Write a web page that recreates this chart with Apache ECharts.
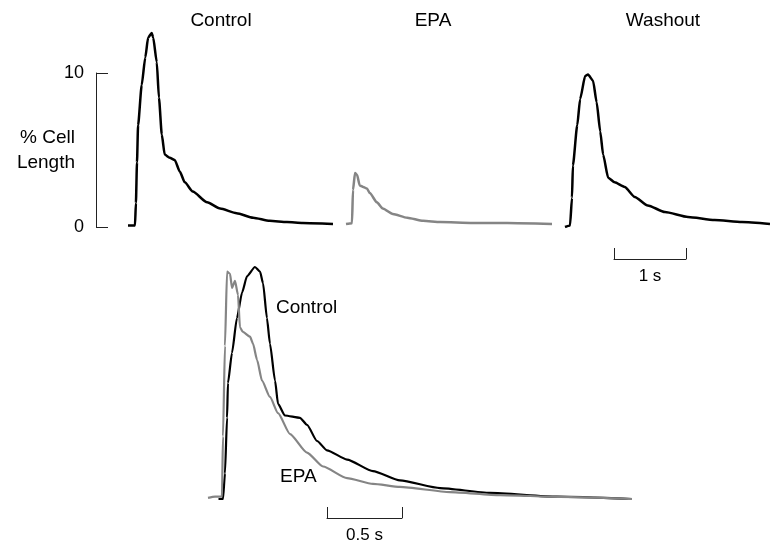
<!DOCTYPE html>
<html>

<head>
    <meta charset="UTF-8">
    <title>Cell shortening traces</title>
    <script src="https://cdn.jsdelivr.net/npm/echarts@6.0.0/dist/echarts.min.js"></script>
    <style>
        body { margin: 0; background: #fff; }
        #chart { width: 776px; height: 547px; }
    </style>
</head>

<body>
    <div id="chart"></div>
    <script>
        // top row: time (s) and % cell length
        const ctrlTopT = [0, 0.097, 0.11, 0.125, 0.14, 0.19, 0.24, 0.28, 0.33, 0.35, 0.40, 0.43, 0.47, 0.51, 0.58, 0.65, 0.72, 0.79, 0.90, 1.10, 1.28, 1.51, 1.74, 1.97, 2.21, 2.43, 2.85];
        const ctrlTopV = [0.1, 0.1, 1.56, 4.2, 6.6, 9.2, 11.0, 12.3, 12.6, 12.3, 10.7, 8.4, 6.0, 4.7, 4.5, 4.35, 3.6, 2.9, 2.3, 1.6, 1.2, 0.9, 0.6, 0.4, 0.32, 0.26, 0.2];

        const epaTopT = [0, 0.083, 0.097, 0.125, 0.153, 0.19, 0.24, 0.29, 0.33, 0.43, 0.51, 0.65, 0.85, 1.07, 1.31, 1.76, 2.24, 2.86];
        const epaTopV = [0.2, 0.25, 2.4, 3.5, 3.4, 2.7, 2.6, 2.5, 2.2, 1.6, 1.2, 0.85, 0.6, 0.4, 0.32, 0.26, 0.26, 0.2];

        const washTopT = [0, 0.07, 0.097, 0.11, 0.17, 0.21, 0.28, 0.32, 0.39, 0.44, 0.49, 0.53, 0.60, 0.69, 0.83, 0.97, 1.15, 1.39, 1.71, 2.08, 2.46, 2.85];
        const washTopV = [0, 0.1, 1.9, 4.0, 6.6, 8.3, 9.8, 9.9, 9.5, 8.1, 6.2, 4.7, 3.2, 2.9, 2.6, 1.95, 1.4, 0.97, 0.65, 0.45, 0.32, 0.2];

        // bottom overlay: normalised amplitude
        const ctrlBotT = [0.07, 0.10, 0.113, 0.127, 0.133, 0.16, 0.193, 0.227, 0.26, 0.313, 0.347, 0.367, 0.393, 0.413, 0.447, 0.467, 0.513, 0.613, 0.66, 0.727, 0.793, 0.927, 1.10, 1.28, 1.547, 1.88, 2.327, 2.827];
        const ctrlBotV = [0, 0, 0.11, 0.35, 0.50, 0.63, 0.78, 0.89, 0.96, 1.0, 0.98, 0.93, 0.78, 0.67, 0.51, 0.41, 0.36, 0.35, 0.32, 0.25, 0.21, 0.17, 0.12, 0.08, 0.047, 0.026, 0.01, 0];

        const epaBotT = [0, 0.047, 0.093, 0.1, 0.113, 0.127, 0.147, 0.16, 0.18, 0.2, 0.213, 0.233, 0.28, 0.3, 0.327, 0.36, 0.413, 0.467, 0.547, 0.66, 0.767, 0.927, 1.1, 1.28, 1.613, 1.947, 2.347, 2.827];
        const epaBotV = [0.005, 0.01, 0.01, 0.27, 0.66, 0.98, 0.97, 0.91, 0.94, 0.88, 0.74, 0.72, 0.70, 0.67, 0.60, 0.51, 0.44, 0.37, 0.28, 0.20, 0.14, 0.09, 0.065, 0.052, 0.03, 0.017, 0.009, 0];

        const yTicks = [0, 10];
        const titles = ['Control', 'EPA', 'Washout'];

        const pairs = (t, v) => t.map((x, i) => [x, v[i]]);
        const font = "'Liberation Sans', Arial, sans-serif";
        const black = '#000000';
        const gray = '#858585';

        const chart = echarts.init(document.getElementById('chart'));

        // hidden axis helper
        const hidden = (gi, min, max) => ({
            type: 'value', gridIndex: gi, min: min, max: max, show: false
        });

        // scale-bar style x axis
        const scaleBar = (gi, len, label, gap) => ({
            type: 'value', gridIndex: gi, min: 0, max: len, interval: len,
            position: 'bottom',
            axisLine: { show: true, lineStyle: { color: '#222', width: 1 } },
            axisTick: { show: true, inside: true, length: 11, lineStyle: { color: '#222', width: 1 } },
            axisLabel: { show: false },
            splitLine: { show: false },
            name: label, nameLocation: 'middle', nameGap: gap,
            nameTextStyle: { fontFamily: font, fontSize: 17, color: '#000' }
        });

        const trace = (ai, data, color, w) => ({
            type: 'line', xAxisIndex: ai, yAxisIndex: ai, data: data,
            showSymbol: false, smooth: 0.2, smoothMonotone: 'x',
            lineStyle: { color: color, width: w }
        });

        chart.setOption({
            animation: false,
            title: titles.map((t, i) => ({
                text: t,
                left: [221, 433, 663][i],
                top: 11,
                textAlign: 'center',
                padding: 0,
                textStyle: { fontFamily: font, fontSize: 19, fontWeight: 'normal', color: '#000' }
            })),
            grid: [
                // 0: y bracket
                { left: 96, top: 73, width: 12, height: 154 },
                // 1-3: top traces (0 at y=227, 15.4 px per %)
                { left: 128, top: 26.8, width: 205, height: 200.2 },
                { left: 346, top: 26.8, width: 206, height: 200.2 },
                { left: 565, top: 26.8, width: 205, height: 200.2 },
                // 4: 1 s bar
                { left: 614, top: 240, width: 72, height: 19 },
                // 5: bottom overlay
                { left: 208, top: 255.4, width: 424, height: 243.6 },
                // 6: 0.5 s bar
                { left: 327, top: 500, width: 75, height: 18 }
            ],
            xAxis: [
                hidden(0, 0, 1),
                hidden(1, 0, 2.85),
                hidden(2, 0, 2.86),
                hidden(3, 0, 2.85),
                scaleBar(4, 1, '1 s', 9),
                hidden(5, 0, 2.827),
                scaleBar(6, 0.5, '0.5 s', 9)
            ],
            yAxis: [
                {
                    type: 'value', gridIndex: 0, min: yTicks[0], max: yTicks[1], interval: 10,
                    axisLine: { show: true, lineStyle: { color: '#222', width: 1 } },
                    axisTick: { show: true, inside: true, length: 12, lineStyle: { color: '#222', width: 1 } },
                    axisLabel: { fontFamily: font, fontSize: 18, color: '#000', margin: 12 },
                    splitLine: { show: false },
                    name: '% Cell\nLength', nameLocation: 'middle', nameRotate: 0, nameGap: 21,
                    nameMoveOverlap: false,
                    nameTextStyle: { fontFamily: font, fontSize: 19, color: '#000', lineHeight: 25 }
                },
                hidden(1, 0, 13),
                hidden(2, 0, 13),
                hidden(3, 0, 13),
                hidden(4, 0, 1),
                hidden(5, 0, 1.05),
                hidden(6, 0, 1)
            ],
            graphic: [
                { type: 'text', left: 276, top: 298, style: { text: 'Control', font: '19px ' + font, fill: '#000' } },
                { type: 'text', left: 280, top: 467, style: { text: 'EPA', font: '19px ' + font, fill: '#000' } }
            ],
            series: [
                trace(1, pairs(ctrlTopT, ctrlTopV), black, 2.5),
                trace(2, pairs(epaTopT, epaTopV), gray, 2.5),
                trace(3, pairs(washTopT, washTopV), black, 2.5),
                trace(5, pairs(ctrlBotT, ctrlBotV), black, 2.2),
                trace(5, pairs(epaBotT, epaBotV), gray, 2.2)
            ]
        });
    </script>
</body>

</html>
